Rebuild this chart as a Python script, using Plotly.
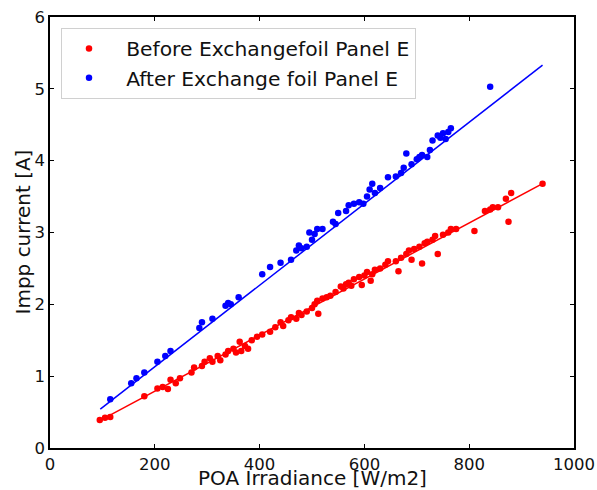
import plotly.graph_objects as go

before_x = [95,105,115,180,205,215,225,230,240,248,270,275,290,295,305,310,320,325,335,340,350,355,362,365,372,378,385,395,405,420,430,440,445,455,460,470,475,480,490,500,505,510,512,520,528,535,545,555,560,565,570,575,580,590,595,600,605,612,615,620,630,640,645,660,665,670,680,685,690,695,705,710,715,720,730,735,740,750,760,765,775,810,830,840,845,855,870,875,880,940]
before_y = [0.39,0.42,0.43,0.72,0.83,0.85,0.82,0.95,0.90,0.97,1.05,1.12,1.14,1.20,1.25,1.20,1.28,1.22,1.30,1.35,1.38,1.33,1.48,1.35,1.42,1.38,1.50,1.55,1.58,1.62,1.68,1.75,1.70,1.78,1.82,1.80,1.88,1.85,1.90,1.95,2.00,2.05,1.87,2.08,2.10,2.12,2.17,2.25,2.22,2.28,2.30,2.26,2.35,2.38,2.27,2.40,2.45,2.33,2.42,2.48,2.50,2.55,2.60,2.60,2.46,2.65,2.70,2.75,2.62,2.77,2.80,2.57,2.85,2.87,2.90,2.95,2.70,2.97,3.00,3.05,3.05,3.02,3.30,3.32,3.35,3.35,3.47,3.15,3.55,3.68]

after_x = [115,155,165,180,205,220,230,285,290,310,335,340,345,360,405,420,440,460,470,475,480,490,495,500,505,510,520,540,545,550,565,570,580,590,598,605,610,615,620,630,645,660,670,675,680,690,700,705,710,720,725,730,740,745,750,755,760,765,840]
after_y = [0.68,0.90,0.97,1.05,1.20,1.28,1.35,1.67,1.75,1.80,1.98,2.02,2.00,2.10,2.42,2.52,2.58,2.62,2.75,2.82,2.78,2.80,3.00,2.90,2.98,3.05,3.05,3.15,3.12,3.27,3.30,3.38,3.40,3.42,3.40,3.50,3.60,3.68,3.55,3.62,3.77,3.78,3.83,3.90,4.10,3.95,4.02,4.05,4.08,4.05,4.15,4.28,4.35,4.32,4.38,4.30,4.40,4.45,5.03]

fit_before_x = [95, 940]
fit_before_y = [0.38, 3.68]
fit_after_x = [96, 940]
fit_after_y = [0.54, 5.33]

x_ticks = [0, 200, 400, 600, 800, 1000]
y_ticks = [0, 1, 2, 3, 4, 5, 6]
x_title = "POA Irradiance [W/m2]"
y_title = "Impp current [A]"

font = "DejaVu Sans"
fig = go.Figure()
fig.add_trace(go.Scatter(x=before_x, y=before_y, mode="markers",
                         marker=dict(color="red", size=6.5),
                         name="\u2002Before Exchangefoil Panel E"))
fig.add_trace(go.Scatter(x=after_x, y=after_y, mode="markers",
                         marker=dict(color="blue", size=6.5),
                         name="\u2002After Exchange foil Panel E"))
fig.add_trace(go.Scatter(x=fit_before_x, y=fit_before_y, mode="lines",
                         line=dict(color="red", width=1.5), showlegend=False))
fig.add_trace(go.Scatter(x=fit_after_x, y=fit_after_y, mode="lines",
                         line=dict(color="blue", width=1.5), showlegend=False))

axis_common = dict(showgrid=False, zeroline=False, showline=True, linecolor="black",
                   linewidth=1.5, mirror="ticks", ticks="inside", ticklen=4,
                   tickcolor="black", automargin=False,
                   tickfont=dict(family=font, size=16.5, color="#111"))
fig.update_xaxes(range=[0, 1000], tickvals=x_ticks, **axis_common)
fig.update_yaxes(range=[0, 6], tickvals=y_ticks, **axis_common)

fig.add_annotation(text=x_title, xref="paper", yref="paper", x=0.5, y=0,
                   xanchor="center", yanchor="top", yshift=-16, showarrow=False,
                   font=dict(family=font, size=20, color="#111"))
fig.add_annotation(text=y_title, xref="paper", yref="paper", x=0, y=0.5,
                   xanchor="center", yanchor="middle", xshift=-28, textangle=-90,
                   showarrow=False, font=dict(family=font, size=20, color="#111"))

fig.update_layout(
    width=597, height=490,
    margin=dict(l=50, r=23, t=17, b=42),
    plot_bgcolor="white", paper_bgcolor="white",
    font=dict(family=font, color="#111"),
    legend=dict(x=0.021, y=0.975, xanchor="left", yanchor="top",
                bordercolor="#d0d0d0", borderwidth=1, bgcolor="rgba(255,255,255,0.8)",
                font=dict(family=font, size=20.3, color="#111"),
                itemwidth=44, traceorder="normal"),
)
fig.write_html("out.html")
